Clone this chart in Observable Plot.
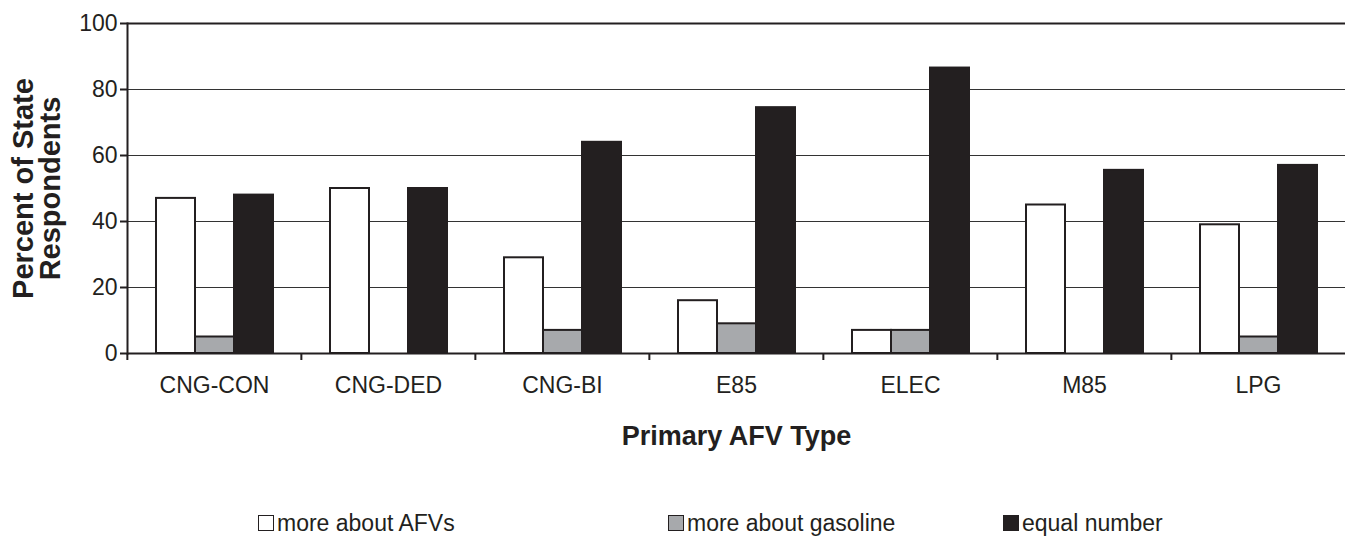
<!DOCTYPE html>
<html>
<head>
<meta charset="utf-8">
<script src="https://cdn.jsdelivr.net/npm/d3@7"></script>
<script src="https://cdn.jsdelivr.net/npm/@observablehq/plot@0.6"></script>
<style>
  body { margin: 0; background: #fff; font-family: "Liberation Sans", Arial, sans-serif; color: #231f20; }
  #chart { width: 1346px; }
  #legend { position: relative; width: 1346px; height: 76px; }
  .item { position: absolute; top: 44px; display: flex; align-items: center; font-size: 23px; line-height: 28px; white-space: nowrap; }
  .box { width: 14px; height: 14px; border: 1.5px solid #231f20; margin-right: 3px; box-sizing: content-box; }
</style>
</head>
<body>
<div id="chart"></div>
<div id="legend"></div>
<script>
const categories = ["CNG-CON", "CNG-DED", "CNG-BI", "E85", "ELEC", "M85", "LPG"];
const series = ["more about AFVs", "more about gasoline", "equal number"];
const moreAboutAFVs = [47, 50, 29, 16, 7, 45, 39];
const moreAboutGasoline = [5, 0, 7, 9, 7, 0, 5];
const equalNumber = [48, 50, 64, 74.5, 86.5, 55.5, 57];
const yTicks = [0, 20, 40, 60, 80, 100];
const gridValues = [20, 40, 60, 80];
const seriesColors = ["#ffffff", "#a7a9ac", "#231f20"];
const xTitle = "Primary AFV Type";
const yTitle = "Percent of State\nRespondents";

const valuesBySeries = [moreAboutAFVs, moreAboutGasoline, equalNumber];
const data = categories.flatMap((c, i) =>
  series.map((s, j) => ({category: c, series: s, value: valuesBySeries[j][i]}))
);

const W = 1346, H = 465, mL = 126, mR = 0, mT = 23, mB = 112;
const step = (W - mL - mR) / categories.length;
const ink = "#231f20";

const chart = Plot.plot({
  width: W,
  height: H,
  marginLeft: mL,
  marginRight: mR,
  marginTop: mT,
  marginBottom: mB,
  style: {fontFamily: '"Liberation Sans", Arial, sans-serif', color: ink, background: "#fff", overflow: "visible"},
  fx: {domain: categories, padding: 0, label: null},
  x: {domain: series, paddingInner: 0, paddingOuter: 0.73, axis: null},
  y: {domain: [0, 100], label: null},
  color: {domain: series, range: seriesColors},
  marks: [
    Plot.ruleY(gridValues, {stroke: "#333333", strokeWidth: 1}),
    Plot.barY(data, {fx: "category", x: "series", y: "value", fill: "series", stroke: ink, strokeWidth: 2}),
    Plot.ruleY([100], {stroke: ink, strokeWidth: 2}),
    Plot.ruleY([0], {stroke: ink, strokeWidth: 2}),
    Plot.axisY({ticks: yTicks, tickSize: 7, tickPadding: 3, fontSize: 23, strokeWidth: 2, label: null}),
    Plot.axisFx({anchor: "bottom", tickSize: 0, tickPadding: 23, fontSize: 23, label: null}),
    Plot.axisFx({anchor: "bottom", tickSize: 7, tickFormat: null, dx: -step / 2, strokeWidth: 2, label: null}),
    Plot.frame({anchor: "left", facet: "super", stroke: ink, strokeWidth: 2}),
    Plot.text([xTitle], {frameAnchor: "bottom", facet: "super", dy: 91, fontSize: 27, fontWeight: "bold", fill: ink}),
    Plot.text([yTitle], {frameAnchor: "left", facet: "super", rotate: -90, dx: -90, textAnchor: "middle", fontSize: 29, fontWeight: "bold", lineHeight: 0.95, fill: ink})
  ]
});
document.getElementById("chart").appendChild(chart);

const legendX = [258, 668, 1003];
const legend = document.getElementById("legend");
series.forEach((s, i) => {
  const item = document.createElement("div");
  item.className = "item";
  item.style.left = legendX[i] + "px";
  const box = document.createElement("span");
  box.className = "box";
  box.style.background = seriesColors[i];
  const label = document.createElement("span");
  label.textContent = s;
  item.appendChild(box);
  item.appendChild(label);
  legend.appendChild(item);
});
</script>
</body>
</html>
